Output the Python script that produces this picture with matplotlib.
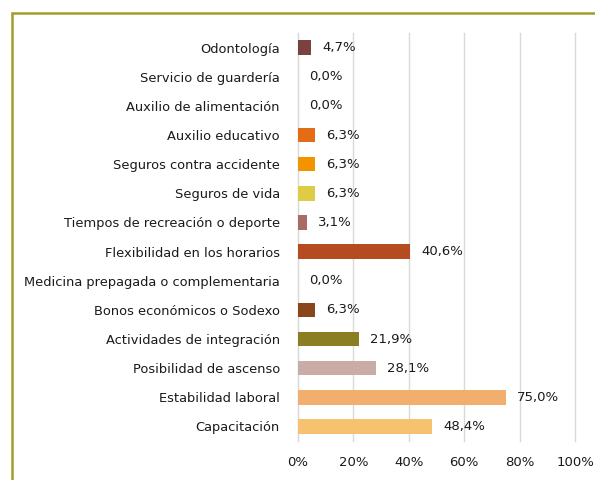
import matplotlib
matplotlib.use("Agg")
import matplotlib.pyplot as plt
from matplotlib.patches import Rectangle

# categories, top to bottom as in the picture
CATEGORIES = ["Odontología", "Servicio de guardería", "Auxilio de alimentación",
              "Auxilio educativo", "Seguros contra accidente", "Seguros de vida",
              "Tiempos de recreación o deporte", "Flexibilidad en los horarios",
              "Medicina prepagada o complementaria", "Bonos económicos o Sodexo",
              "Actividades de integración", "Posibilidad de ascenso",
              "Estabilidad laboral", "Capacitación"]
VALUES = [4.7, 0.0, 0.0, 6.3, 6.3, 6.3, 3.1, 40.6, 0.0, 6.3, 21.9, 28.1, 75.0, 48.4]
COLORS = ["#7B4141", "#FFFFFF", "#FFFFFF", "#E46C17", "#F39300", "#DECC46",
          "#A96B67", "#B44C1F", "#FFFFFF", "#8B451A", "#8B7E22", "#C9ACA6",
          "#F2AE6D", "#F7C270"]
XTICKS = [0, 20, 40, 60, 80, 100]

plt.rcParams['font.family'] = ['DejaVu Sans']

fig = plt.figure(figsize=(5.95, 4.8), dpi=100)
ax = fig.add_axes([298 / 595, 1 - 441 / 480, (575 - 298) / 595, (441 - 33) / 480])

ypos = list(range(len(CATEGORIES)))
ax.barh(ypos, VALUES, height=0.5, color=COLORS, zorder=3)
for y, v in zip(ypos, VALUES):
    ax.text(v + 4.0, y, ("%.1f%%" % v).replace(".", ","), va="center", ha="left",
            fontsize=9.5, color="#1a1a1a", zorder=4)

ax.set_xlim(0, 100)
ax.set_ylim(len(CATEGORIES) - 0.5, -0.5)
ax.set_yticks(ypos)
ax.set_yticklabels(CATEGORIES, fontsize=9.4, color="#1a1a1a")
ax.set_xticks(XTICKS)
ax.set_xticklabels(["%d%%" % t for t in XTICKS], fontsize=9.5, color="#1a1a1a")
ax.tick_params(axis="both", length=0)
ax.tick_params(axis="y", pad=13)
ax.tick_params(axis="x", pad=11)
ax.grid(axis="x", color="#D9D9D9", linewidth=1, zorder=0)
for gl in ax.get_xgridlines():
    gl.set_clip_on(False)
for s in ["top", "right", "bottom"]:
    ax.spines[s].set_visible(False)
ax.spines["left"].set_color("#D9D9D9")
ax.spines["left"].set_zorder(1)

# olive frame around the chart (cut off at right and bottom)
fig.patches.append(Rectangle((12 / 595, -0.1), 1.2, 1 - 13.5 / 480 + 0.1,
                             transform=fig.transFigure, fill=False,
                             edgecolor="#A39C2B", linewidth=1.8))

fig.savefig("out.png", dpi=100)
